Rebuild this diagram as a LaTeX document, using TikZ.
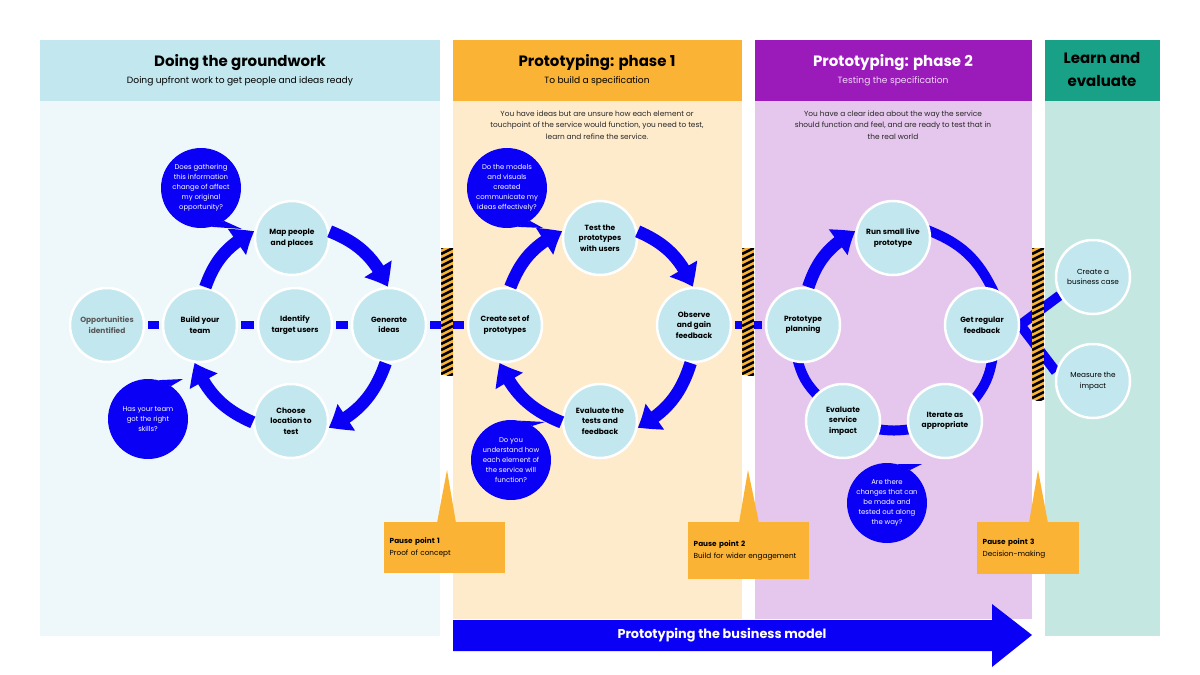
\documentclass[tikz,border=0pt]{standalone}
\usepackage{fontspec}
\setmainfont{Poppins}
\usepackage{tikz}
\usetikzlibrary{arrows.meta, bending, positioning, calc}
\definecolor{qblue}{RGB}{10,0,245}
\definecolor{stagefill}{RGB}{194,231,238}
\definecolor{cyanhead}{RGB}{194,231,238}
\definecolor{cyanbody}{RGB}{238,247,249}
\definecolor{orangehead}{RGB}{251,179,53}
\definecolor{orangebody}{RGB}{254,235,204}
\definecolor{purplehead}{RGB}{154,27,186}
\definecolor{purplebody}{RGB}{229,198,236}
\definecolor{tealhead}{RGB}{24,161,135}
\definecolor{tealbody}{RGB}{197,231,225}
\definecolor{lilactext}{RGB}{242,214,247}
\pgfdeclarelayer{panel}
\pgfdeclarelayer{wire}
\pgfdeclarelayer{barrier}
\pgfsetlayers{panel,wire,barrier,main}

% striped pause barrier: x, top, bottom
\newcommand{\hazardbar}[3]{%
  \begin{scope}
    \clip (#1,#2) rectangle (#1+12,#3);
    \fill[orangehead] (#1,#2) rectangle (#1+12,#3);
    \foreach \k in {-1,...,28}
      \draw[black, line width=2.6pt] (#1,#2+\k*6+6) -- (#1+12,#2+\k*6);
  \end{scope}}

\begin{document}
\begin{tikzpicture}[x=1pt, y=-1pt,
    stage/.style={circle, fill=stagefill, draw=white, line width=2.5pt, minimum size=74pt, inner sep=0pt, align=center, font=\fontsize{7.5}{10.5}\selectfont\bfseries},
    bubble/.style={circle, fill=qblue, minimum size=80pt, inner sep=0pt, align=center, text=white, font=\fontsize{6.9}{10}\selectfont},
    link/.style={draw=qblue, line width=8pt, shorten <=3pt, shorten >=3pt},
    cyc/.style={draw=qblue, line width=12.5pt, -{Triangle[length=21pt, width=30pt, bend]}},
    ring/.style={draw=qblue, line width=10pt, shorten <=-6pt, shorten >=-6pt},
    ttl/.style={font=\fontsize{15}{17}\selectfont\bfseries},
    sub/.style={font=\fontsize{9.1}{10}\selectfont},
    desc/.style={align=center, font=\fontsize{7.4}{11.5}\selectfont, text=black!85},
    pausebox/.style={fill=orangehead, anchor=north west, minimum width=121pt, text width=110pt, align=left, inner xsep=5.5pt, font=\fontsize{7.3}{12}\selectfont},
]
\useasboundingbox (0,0) rectangle (1200,675);

% panels
\begin{pgfonlayer}{panel}
\fill[white] (0,0) rectangle (1200,675);
\fill[cyanbody] (40,40) rectangle (440,636);
\fill[cyanhead] (40,40) rectangle (440,101);
\fill[orangebody] (453,40) rectangle (742,619);
\fill[orangehead] (453,40) rectangle (742,101);
\fill[purplebody] (755,40) rectangle (1032,619);
\fill[purplehead] (755,40) rectangle (1032,101);
\fill[tealbody] (1045,40) rectangle (1160,636);
\fill[tealhead] (1045,40) rectangle (1160,101);
\end{pgfonlayer}

\node[ttl] (t1) at (240,63) {Doing the groundwork};
\node[sub] (s1) at (240,81) {Doing upfront work to get people and ideas ready};
\node[ttl] (t2) at (597,63) {Prototyping: phase 1};
\node[sub] (s2) at (597,81) {To build a specification};
\node[ttl, text=white] (t3) at (893,63) {Prototyping: phase 2};
\node[sub, text=lilactext] (s3) at (893,81) {Testing the specification};
\node[ttl, align=center, font=\fontsize{15}{23}\selectfont\bfseries] (t4) at (1102,70) {Learn and\\evaluate};

\node[desc] (d2) at (597,125) {You have ideas but are unsure how each element or\\touchpoint of the service would function, you need to test,\\learn and refine the service.};
\node[desc] (d3) at (893,125) {You have a clear idea about the way the service\\should function and feel, and are ready to test that in\\the real world};

% stages
\node[stage, text=black!65] (opp) at (107,325) {Opportunities\\identified};
\node[stage] (build) at (200,325) {Build your\\team};
\node[stage] (ident) at (295,325) {Identify\\target users};
\node[stage] (gen) at (389,325) {Generate\\ideas};
\node[stage] (map) at (292,238) {Map people\\and places};
\node[stage] (loc) at (291,421) {Choose\\location to\\test};

\node[stage] (mkproto) at (505,325) {Create set of\\prototypes};
\node[stage] (testp) at (600,238) {Test the\\prototypes\\with users};
\node[stage] (observe) at (694,325) {Observe\\and gain\\feedback};
\node[stage] (evaltest) at (600,421) {Evaluate the\\tests and\\feedback};

\node[stage] (plan) at (803,325) {Prototype\\planning};
\node[stage] (runlive) at (893,238) {Run small live\\prototype};
\node[stage] (getfb) at (982,325) {Get regular\\feedback};
\node[stage] (iter) at (945,421) {Iterate as\\appropriate};
\node[stage] (evalimp) at (843,421) {Evaluate\\service\\impact};

\node[stage, font=\fontsize{7.3}{10.5}\selectfont] (bizcase) at (1093,277) {Create a\\business case};
\node[stage, font=\fontsize{7.3}{10.5}\selectfont] (measure) at (1093,381) {Measure the\\impact};

% links behind the stages
\begin{pgfonlayer}{wire}
\draw[link] (opp) -- (build);
\draw[link] (build) -- (ident);
\draw[link] (ident) -- (gen);
\draw[link] (gen) -- (mkproto);
\draw[link] (observe) -- (plan);
\draw[qblue, line width=10pt] (getfb.east) -- (bizcase.209);
\draw[qblue, line width=10pt] (getfb.east) -- (measure.166);

\draw[ring] (runlive.10) to[bend left=22] (getfb.75);
\draw[ring] (getfb.-75) to[bend left=15] (iter.37);
\draw[ring] (iter.193) to[bend left=8] (evalimp.-13);
\draw[ring] (evalimp.135) to[bend left=15] (plan.-97);
\end{pgfonlayer}

\begin{pgfonlayer}{barrier}
\hazardbar{441}{248}{375}
\hazardbar{742}{248}{375}
\hazardbar{1032}{248}{400}
\end{pgfonlayer}

% cycle arrows
\draw[cyc] (build.82) to[bend left=22] (map.170);
\draw[cyc] (map.10) to[bend left=22] (gen.92);
\draw[cyc] (gen.-95) to[bend left=22] (loc.-10);
\draw[cyc] (loc.182) to[bend left=22] (build.-98);

\draw[cyc] (mkproto.82) to[bend left=22] (testp.170);
\draw[cyc] (testp.10) to[bend left=22] (observe.92);
\draw[cyc] (observe.-95) to[bend left=22] (evaltest.-10);
\draw[cyc] (evaltest.182) to[bend left=22] (mkproto.-98);

\draw[cyc] (plan.82) to[bend left=22] (runlive.170);

% question bubbles
\node[bubble] (q1) at (201,188) {Does gathering\\this information\\change of affect\\my original\\opportunity?};
\fill[qblue] (q1.-55) -- (242,229) -- (q1.-75) -- cycle;
\node[bubble] (q2) at (148,419) {Has your team\\got the right\\skills?};
\fill[qblue] (q2.75) -- (183,379) -- (q2.55) -- cycle;
\node[bubble] (q3) at (507,188) {Do the models\\and visuals\\created\\communicate my\\ideas effectively?};
\fill[qblue] (q3.-55) -- (543,228) -- (q3.-75) -- cycle;
\node[bubble] (q4) at (511,460) {Do you\\understand how\\each element of\\the service will\\function?};
\fill[qblue] (q4.78) -- (545,422) -- (q4.58) -- cycle;
\node[bubble] (q5) at (887,503) {Are there\\changes that can\\be made and\\tested out along\\the way?};
\fill[qblue] (q5.75) -- (922,464) -- (q5.55) -- cycle;

% pause points
\node[pausebox, minimum height=51pt] (pp1) at (384,522) {\textbf{Pause point 1}\\Proof of concept};
\fill[orangehead] (437,523) -- (447,470) -- (456,523) -- cycle;
\node[pausebox, minimum height=57pt] (pp2) at (688,522) {\textbf{Pause point 2}\\Build for wider engagement};
\fill[orangehead] (739,523) -- (748,470) -- (759,523) -- cycle;
\node[pausebox, minimum width=102pt, text width=91pt, minimum height=52pt] (pp3) at (977,522) {\textbf{Pause point 3}\\Decision-making};
\fill[orangehead] (1029,523) -- (1038,470) -- (1048,523) -- cycle;

% business model arrow
\fill[qblue] (453,620) -- (992,620) -- (992,604) -- (1032,635) -- (992,667) -- (992,651) -- (453,651) -- cycle;
\node[text=white, font=\fontsize{12.8}{14}\selectfont\bfseries] (bm) at (722,635) {Prototyping the business model};
\end{tikzpicture}
\end{document}
